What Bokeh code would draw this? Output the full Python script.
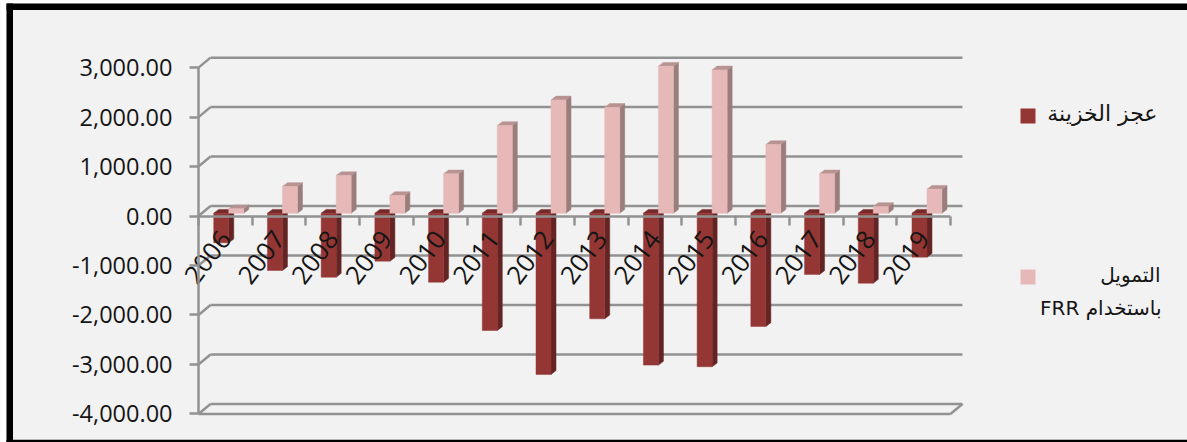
from bokeh.embed import file_html
from bokeh.resources import INLINE
from bokeh.plotting import figure
from bokeh.models import (Range1d, FixedTicker, NumeralTickFormatter, LinearAxis,
                          BoxAnnotation, Label)

years = ["2006","2007","2008","2009","2010","2011","2012","2013","2014","2015","2016","2017","2018","2019"]
deficit = [-598,-1158,-1293,-970,-1394,-2370,-3259,-2134,-3071,-3103,-2289,-1238,-1414,-889]
funding = [90,540,760,358,795,1772,2290,2140,2970,2897,1388,795,135,485]
y_ticks = [-4000,-3000,-2000,-1000,0,1000,2000,3000]
name_deficit = "عجز الخزينة"
name_funding_1 = "التمويل"
name_funding_2 = "\u202bباستخدام FRR\u202c"

BG = "#f2f2f2"; LINE = "#929292"; TXT = "#151515"
LW = 2.5
FONT = "Open Sans"
AR_FONT = "DejaVu Sans"
n = len(years)
PX_X = 53.71      # pixels per category
PX_Y = 0.04947    # pixels per value unit
WALL_DX, WALL_DY = 12 / PX_X, 10 / PX_Y
BAR_W = 15 / PX_X
BAR_SHIFT = 3.4 / PX_X
BAR_BASE = 2.85 / PX_Y
DEPTH_X, DEPTH_Y = 5 / PX_X, 3.8 / PX_Y
W, H = 1187, 442

p = figure(width=W, height=H, frame_width=W, frame_height=H,
           min_border=0,
           x_range=Range1d(-198 / PX_X, (W - 198) / PX_X),
           y_range=Range1d(-(H - 215.55) / PX_Y, 215.55 / PX_Y),
           output_backend="svg", toolbar_location=None, x_axis_location=None, y_axis_location=None,
           background_fill_color=BG, border_fill_color=BG, outline_line_color=None)
p.grid.visible = False

# walls
p.segment(x0=[WALL_DX] * len(y_ticks), x1=[n + WALL_DX] * len(y_ticks),
          y0=[v + WALL_DY for v in y_ticks], y1=[v + WALL_DY for v in y_ticks],
          line_color=LINE, line_width=LW)
p.segment(x0=[0] * len(y_ticks), x1=[WALL_DX] * len(y_ticks),
          y0=y_ticks, y1=[v + WALL_DY for v in y_ticks], line_color=LINE, line_width=LW)
p.segment(x0=[0, n], x1=[n, n + WALL_DX], y0=[y_ticks[0]] * 2,
          y1=[y_ticks[0], y_ticks[0] + WALL_DY], line_color=LINE, line_width=LW)


def bars(values, offset, front, side, top):
    lefts = [i + 0.5 + offset + BAR_SHIFT for i in range(n)]
    hi = [max(v, 0) + BAR_BASE for v in values]
    lo = [min(v, 0) + BAR_BASE for v in values]
    rights = [l + BAR_W for l in lefts]
    p.patches([[r, r + DEPTH_X, r + DEPTH_X, r] for r in rights],
              [[b, b + DEPTH_Y, t + DEPTH_Y, t] for b, t in zip(lo, hi)],
              fill_color=side, line_color=side, line_width=0.5)
    p.patches([[l, r, r + DEPTH_X, l + DEPTH_X] for l, r in zip(lefts, rights)],
              [[t, t, t + DEPTH_Y, t + DEPTH_Y] for t in hi],
              fill_color=top, line_color=top, line_width=0.5)
    p.quad(left=lefts, right=rights, bottom=lo, top=hi, fill_color=front, line_color=front, line_width=0.5)


bars(deficit, -BAR_W, "#943634", "#632423", "#752928")
bars(funding, 0, "#e6b9b8", "#9b7d7c", "#b89392")

# value axis
ya = LinearAxis(fixed_location=0, ticker=FixedTicker(ticks=y_ticks),
                formatter=NumeralTickFormatter(format="0,0.00"))
ya.bounds = (y_ticks[0], y_ticks[-1])
ya.axis_line_color = LINE; ya.axis_line_width = LW
ya.major_tick_line_color = LINE; ya.major_tick_line_width = LW
ya.major_tick_out = 9; ya.major_tick_in = 0
ya.minor_tick_line_color = None
ya.major_label_standoff = 17
ya.major_label_text_font = FONT
ya.major_label_text_font_size = "23.5px"
ya.major_label_text_color = TXT
p.add_layout(ya, "left")

# category axis at zero: boundary ticks
xa = LinearAxis(fixed_location=0, ticker=FixedTicker(ticks=list(range(n + 1))),
                major_label_overrides={i: "" for i in range(n + 1)})
xa.bounds = (0, n)
xa.axis_line_color = LINE; xa.axis_line_width = LW
xa.major_tick_line_color = LINE; xa.major_tick_line_width = LW
xa.major_tick_out = 9; xa.major_tick_in = 0
xa.minor_tick_line_color = None
p.add_layout(xa, "below")

# category axis at zero: labels
xl = LinearAxis(fixed_location=0, ticker=FixedTicker(ticks=[i + 0.5 for i in range(n)]),
                major_label_overrides={i + 0.5: y for i, y in enumerate(years)})
xl.axis_line_color = None
xl.major_tick_line_color = None
xl.minor_tick_line_color = None
xl.major_tick_out = 0; xl.major_tick_in = 0
xl.major_label_orientation = 0.92
xl.major_label_standoff = 18
xl.major_label_text_font = FONT
xl.major_label_text_font_size = "25.5px"
xl.major_label_text_color = TXT
p.add_layout(xl, "below")


def screen_box(l, r, t, b, color):
    # t and b are pixels from the top of the picture; screen units count from its bottom
    p.add_layout(BoxAnnotation(left=l, right=r, top=H - t, bottom=H - b, left_units="screen", right_units="screen",
                               top_units="screen", bottom_units="screen", fill_color=color, fill_alpha=1,
                               line_color=None, level="overlay"))


# frame of the picture
screen_box(0, 6, 0, H, "#ffffff")
screen_box(0, W, 0, 3, "#ffffff")
screen_box(6, 12.5, 3, H, "#000000")
screen_box(6, W, 3, 9.5, "#000000")
screen_box(6, W, 439.3, H, "#000000")

# legend
screen_box(1020, 1035, 108, 123, "#943634")
screen_box(1020, 1035, 269, 284, "#e6b9b8")
for txt, xr, yb, size in [(name_deficit, 1157, 113, "22px"), (name_funding_1, 1160, 274, "20px"),
                          (name_funding_2, 1161, 307, "20px")]:
    p.add_layout(Label(x=xr, y=H - yb, x_units="screen", y_units="screen", text=txt, text_align="right",
                       text_baseline="alphabetic", text_font=AR_FONT, text_font_size=size, text_color=TXT))

open("out.html", "w").write(file_html(p, INLINE))
